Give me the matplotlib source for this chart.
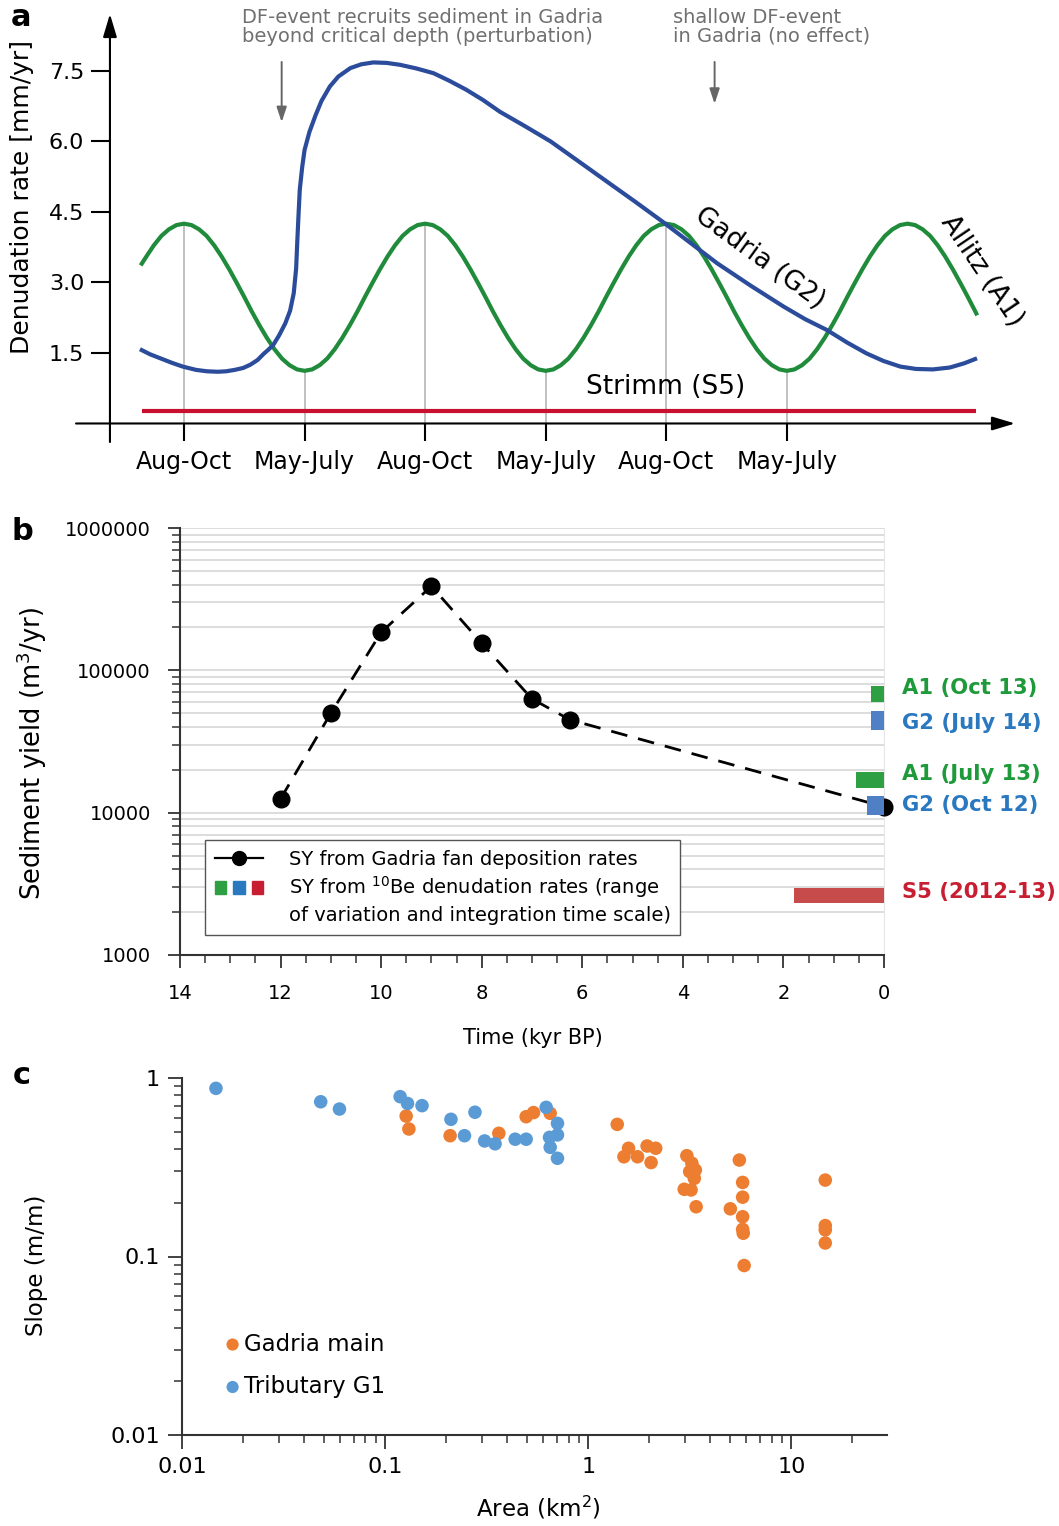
import numpy as np
import matplotlib
matplotlib.use("Agg")
import matplotlib.pyplot as plt
from matplotlib.lines import Line2D
from matplotlib.patches import Patch
from matplotlib.legend_handler import HandlerTuple
from matplotlib.ticker import MultipleLocator, FuncFormatter, NullFormatter

W, H = 1059, 1526

# -------------------------------
# Panel a: schematic denudation rates
# -------------------------------
month_pos = [1, 2, 3, 4, 5, 6]
month_labels = ["Aug-Oct", "May-July", "Aug-Oct", "May-July", "Aug-Oct", "May-July"]
rate_ticks = [1.5, 3.0, 4.5, 6.0, 7.5]

# Allitz (A1) curve, every 1/16 of a season step
allitz_x = [0.65] + list(np.arange(0.6875, 7.57, 0.0625)) + [7.57]
allitz_y = [3.40,
            3.55, 3.79, 3.99, 4.13, 4.22, 4.25,
            4.22, 4.13, 3.99, 3.79, 3.55, 3.28, 2.99, 2.69,
            2.38, 2.09, 1.82, 1.58, 1.38, 1.24, 1.15, 1.12,
            1.15, 1.24, 1.38, 1.58, 1.82, 2.09, 2.38, 2.69,
            2.99, 3.28, 3.55, 3.79, 3.99, 4.13, 4.22, 4.25,
            4.22, 4.13, 3.99, 3.79, 3.55, 3.28, 2.99, 2.69,
            2.38, 2.09, 1.82, 1.58, 1.38, 1.24, 1.15, 1.12,
            1.15, 1.24, 1.38, 1.58, 1.82, 2.09, 2.38, 2.69,
            2.99, 3.28, 3.55, 3.79, 3.99, 4.13, 4.22, 4.25,
            4.22, 4.13, 3.99, 3.79, 3.55, 3.28, 2.99, 2.69,
            2.38, 2.09, 1.82, 1.58, 1.38, 1.24, 1.15, 1.12,
            1.15, 1.24, 1.38, 1.58, 1.82, 2.09, 2.38, 2.69,
            2.99, 3.28, 3.55, 3.79, 3.99, 4.13, 4.22, 4.25,
            4.22, 4.13, 3.99, 3.79, 3.55, 3.28, 2.99, 2.69, 2.38,
            2.34]

# Gadria (G2) curve
gadria_x = [0.65, 0.72, 0.80, 0.90, 0.99, 1.10, 1.19, 1.28, 1.35, 1.42, 1.49,
            1.55, 1.61, 1.66, 1.70, 1.74, 1.79, 1.84, 1.88, 1.91, 1.93, 1.94,
            1.95, 1.96, 1.98, 2.00, 2.04, 2.09, 2.14, 2.21, 2.28, 2.38, 2.47,
            2.57, 2.68, 2.79, 2.93, 3.07, 3.20, 3.34, 3.48, 3.62, 3.83, 4.04,
            4.27, 4.51, 4.74, 4.97, 5.20, 5.42, 5.70, 5.97, 6.15, 6.33, 6.50,
            6.66, 6.80, 6.94, 7.07, 7.21, 7.35, 7.47, 7.56]
gadria_y = [1.56, 1.47, 1.39, 1.29, 1.21, 1.14, 1.11, 1.10, 1.11, 1.14, 1.18,
            1.25, 1.35, 1.48, 1.57, 1.67, 1.88, 2.13, 2.40, 2.77, 3.30, 3.90,
            4.45, 4.97, 5.45, 5.82, 6.20, 6.55, 6.86, 7.17, 7.38, 7.56, 7.64,
            7.68, 7.67, 7.63, 7.55, 7.45, 7.29, 7.10, 6.88, 6.63, 6.32, 6.00,
            5.58, 5.14, 4.72, 4.29, 3.84, 3.41, 2.93, 2.49, 2.22, 1.99, 1.72,
            1.49, 1.33, 1.21, 1.16, 1.15, 1.19, 1.28, 1.37]

# Strimm (S5) flat line
strimm_x = [0.65, 7.57]
strimm_y = [0.27, 0.27]

# height of the grey guide line at each month tick (where it meets the A1 curve)
guide_tops = [4.25, 1.12, 4.25, 1.12, 4.25, 1.12]

# -------------------------------
# Panel b: sediment yield through time
# -------------------------------
fan_time = [12, 11, 10, 9, 8, 7, 6.25, 0]
fan_sy = [12500, 50000, 185000, 390000, 155000, 63000, 45000, 11000]

be_names = ["A1 (Oct 13)", "G2 (July 14)", "A1 (July 13)", "G2 (Oct 12)", "S5 (2012-13)"]
be_span = [0.25, 0.25, 0.55, 0.33, 1.78]      # integration time scale (kyr)
be_low = [60000, 38000, 15000, 9600, 2320]
be_high = [77000, 52000, 19300, 13000, 2970]

# -------------------------------
# Panel c: slope vs drainage area
# -------------------------------
trib_area = [0.0147, 0.0482, 0.0596, 0.1186, 0.129, 0.152, 0.211, 0.277, 0.246,
             0.309, 0.348, 0.437, 0.495, 0.621, 0.706, 0.706, 0.645, 0.65, 0.706]
trib_slope = [0.875, 0.736, 0.67, 0.786, 0.72, 0.70, 0.587, 0.643, 0.475,
              0.444, 0.428, 0.454, 0.454, 0.685, 0.557, 0.48, 0.465, 0.409, 0.355]

main_area = [0.127, 0.131, 0.209, 0.363, 0.495, 0.538, 0.65,
             1.39, 1.58, 1.50, 1.75, 1.95, 2.15, 2.04,
             3.06, 3.24, 3.37, 3.16, 3.33, 2.97, 3.21, 3.40,
             5.55, 5.76, 5.76, 5.01, 5.76, 5.76, 5.8, 5.86,
             14.7, 14.7, 14.7, 14.7]
main_slope = [0.612, 0.518, 0.475, 0.49, 0.607, 0.64, 0.634,
              0.55, 0.404, 0.362, 0.362, 0.416, 0.404, 0.336,
              0.367, 0.333, 0.305, 0.299, 0.274, 0.238, 0.236, 0.19,
              0.347, 0.26, 0.215, 0.185, 0.167, 0.142, 0.135, 0.089,
              0.268, 0.149, 0.141, 0.119]

BLUE = "#2b4c9b"
GREEN = "#1f8b3b"
RED = "#c8102e"


def px_axes(fig, left, top, right, bottom):
    # axes box given in pixel coordinates of the final image
    return fig.add_axes([left / W, 1 - bottom / H, (right - left) / W, (bottom - top) / H])


def fig_text(fig, x, y, s, **kw):
    return fig.text(x / W, 1 - y / H, s, **kw)


fig = plt.figure(figsize=(W / 100, H / 100), dpi=100)

# ===============================
# Panel a
# ===============================
ax = px_axes(fig, 76, 14, 1015, 442)
ax.set_xlim(0.1045, 7.891)
ax.set_ylim(-0.394, 8.71)
for s in ["top", "right"]:
    ax.spines[s].set_visible(False)
# spines only carry the ticks; the axis lines themselves are drawn as arrows
ax.spines["left"].set_position(("data", 0.386))
ax.spines["bottom"].set_position(("data", 0))
for s in ["left", "bottom"]:
    ax.spines[s].set_color("none")

arrow_kw = dict(arrowstyle="-|>,head_length=1.4,head_width=0.42", color="k", lw=1.5,
                shrinkA=0, shrinkB=0)
ax.annotate("", xy=(1, 0), xytext=(0, 0), xycoords=("axes fraction", "data"),
            textcoords=("axes fraction", "data"), arrowprops=arrow_kw)
ax.annotate("", xy=(0.386, 1), xytext=(0.386, 0), xycoords=("data", "axes fraction"),
            textcoords=("data", "axes fraction"), arrowprops=arrow_kw)

ax.vlines(month_pos, 0, guide_tops, color="#b5b5b5", lw=1.2, zorder=1)
ax.plot(strimm_x, strimm_y, color=RED, lw=3, solid_capstyle="butt", zorder=2)
ax.plot(allitz_x, allitz_y, color=GREEN, lw=3, solid_joinstyle="round", zorder=3)
ax.plot(gadria_x, gadria_y, color=BLUE, lw=3, solid_joinstyle="round", zorder=4)

ax.set_xticks(month_pos)
ax.set_xticklabels(month_labels)
ax.set_yticks(rate_ticks)
ax.set_yticklabels([f"{v:.1f}" for v in rate_ticks])
ax.tick_params(axis="x", direction="out", length=13, width=1.5, labelsize=17, pad=6,
               color="k")
ax.tick_params(axis="y", direction="out", length=13.5, width=1.5, labelsize=16, pad=5,
               color="k")

ax.text(1.48, 8.84, "DF-event recruits sediment in Gadria\nbeyond critical depth (perturbation)",
        color="#707070", fontsize=14, ha="left", va="top", linespacing=1.0)
ax.text(5.055, 8.84, "shallow DF-event\nin Gadria (no effect)",
        color="#707070", fontsize=14, ha="left", va="top", linespacing=1.0)
grey_arrow = dict(arrowstyle="-|>,head_length=0.9,head_width=0.3", color="#666666", lw=1.4,
                  shrinkA=0, shrinkB=0)
ax.annotate("", xy=(1.81, 6.41), xytext=(1.81, 7.69), arrowprops=grey_arrow)
ax.annotate("", xy=(5.40, 6.80), xytext=(5.40, 7.69), arrowprops=grey_arrow)

ax.text(5.77, 3.52, "Gadria (G2)", fontsize=19, rotation=-36, ha="center", va="center",
        rotation_mode="anchor")
ax.text(7.62, 3.25, "Allitz (A1)", fontsize=19, rotation=-56, ha="center", va="center",
        rotation_mode="anchor")
ax.text(4.997, 0.78, "Strimm (S5)", fontsize=19, ha="center", va="center")

fig_text(fig, 22, 197, "Denudation rate [mm/yr]", fontsize=18, rotation=90,
         ha="center", va="center")
fig_text(fig, 21, 18, "a", fontsize=22, fontweight="bold", ha="center", va="center")

# ===============================
# Panel b
# ===============================
bx = px_axes(fig, 180, 528, 884, 955)
bx.set_yscale("log")
bx.set_xlim(14, 0)
bx.set_ylim(1000, 1000000)
bx.spines["top"].set_visible(False)
bx.spines["right"].set_color("#e6e6e6")
for s in ["left", "bottom"]:
    bx.spines[s].set_color("#333333")
    bx.spines[s].set_linewidth(1.5)
bx.grid(True, which="both", axis="y", color="#dadada", lw=1.3)
bx.set_axisbelow(True)

bx.xaxis.set_major_locator(MultipleLocator(2))
bx.xaxis.set_minor_locator(MultipleLocator(0.5))
bx.xaxis.set_major_formatter(FuncFormatter(lambda v, p: f"{v:g}"))
bx.yaxis.set_major_formatter(FuncFormatter(lambda v, p: f"{v:.0f}"))
bx.yaxis.set_minor_formatter(NullFormatter())
bx.tick_params(axis="both", which="major", direction="out", length=9, width=1.3,
               labelsize=14, color="#333333")
bx.tick_params(axis="both", which="minor", direction="out", length=6, width=1.1,
               color="#333333")
bx.tick_params(axis="y", which="major", pad=12)
bx.tick_params(axis="x", which="major", pad=12)

bx.plot(fan_time, fan_sy, color="k", lw=2.0, ls=(0, (6, 4)), marker="o", ms=12,
        zorder=3, clip_on=False)

be_colors = ["#2ea043", "#4f7fc4", "#2ea043", "#4f7fc4", "#c84b4b"]
be_text_colors = ["#1f9a3b", "#2a78c0", "#1f9a3b", "#2a78c0", "#c81e32"]
for span, lo, hi, c in zip(be_span, be_low, be_high, be_colors):
    bx.bar(0, hi - lo, width=span, bottom=lo, align="edge", color=c, zorder=4,
           clip_on=False)

label_y = [688, 723, 774, 805, 892]
for name, yy, c in zip(be_names, label_y, be_text_colors):
    fig_text(fig, 902, yy, name, color=c, fontsize=15.2, fontweight="bold",
             ha="left", va="center")

leg_handles = [
    Line2D([], [], color="k", lw=1.6, marker="o", ms=10),
    (Patch(color="#2ea043"), Patch(color="#2a78c0"), Patch(color="#c81e32")),
    Line2D([], [], linestyle="none"),
]
leg_labels = ["SY from Gadria fan deposition rates",
              "SY from $^{10}$Be denudation rates (range",
              "of variation and integration time scale)"]
leg = bx.legend(leg_handles, leg_labels, loc="upper left",
                bbox_to_anchor=(0.0355, 0.2693), fontsize=14, frameon=True,
                fancybox=False, edgecolor="#555555", framealpha=1,
                handlelength=2.5, handletextpad=1.3, labelspacing=0.3,
                borderpad=0.5, borderaxespad=0,
                handler_map={tuple: HandlerTuple(ndivide=None, pad=0.35)})
leg.get_frame().set_linewidth(1.0)
leg.set_zorder(5)

fig_text(fig, 32, 753, "Sediment yield (m$^3$/yr)", fontsize=18.5, rotation=90,
         ha="center", va="center")
fig_text(fig, 533, 1038, "Time (kyr BP)", fontsize=15, ha="center", va="center")
fig_text(fig, 22, 532, "b", fontsize=22, fontweight="bold", ha="center", va="center")

# ===============================
# Panel c
# ===============================
cx = px_axes(fig, 182, 1078, 887, 1435)
cx.set_xscale("log")
cx.set_yscale("log")
cx.set_xlim(0.01, 29.6)
cx.set_ylim(0.01, 1)
for s in ["top", "right"]:
    cx.spines[s].set_visible(False)
for s in ["left", "bottom"]:
    cx.spines[s].set_color("#333333")
    cx.spines[s].set_linewidth(1.5)
fmt = FuncFormatter(lambda v, p: f"{v:g}")
cx.xaxis.set_major_formatter(fmt)
cx.yaxis.set_major_formatter(fmt)
cx.xaxis.set_minor_formatter(NullFormatter())
cx.yaxis.set_minor_formatter(NullFormatter())
cx.tick_params(axis="both", which="major", direction="out", length=10, width=1.3,
               labelsize=16, color="#333333", pad=6)
cx.tick_params(axis="both", which="minor", direction="out", length=6, width=1.1,
               color="#333333")

cx.scatter(main_area, main_slope, s=95, color="#ed7d31", edgecolors="none",
           label="Gadria main", zorder=3, clip_on=False)
cx.scatter(trib_area, trib_slope, s=95, color="#5b9bd5", edgecolors="none",
           label="Tributary G1", zorder=4, clip_on=False)
cx.legend(loc="upper left", bbox_to_anchor=(0.062, 0.287), frameon=False,
          fontsize=16.5, handlelength=0.6, handletextpad=0.2, labelspacing=0.85,
          borderpad=0, borderaxespad=0, markerscale=0.9)

fig_text(fig, 36, 1265, "Slope (m/m)", fontsize=16.5, rotation=90,
         ha="center", va="center")
fig_text(fig, 538, 1508, "Area (km$^2$)", fontsize=16.5, ha="center", va="center")
fig_text(fig, 22, 1076, "c", fontsize=22, fontweight="bold", ha="center", va="center")

fig.savefig("out.png", dpi=100)
